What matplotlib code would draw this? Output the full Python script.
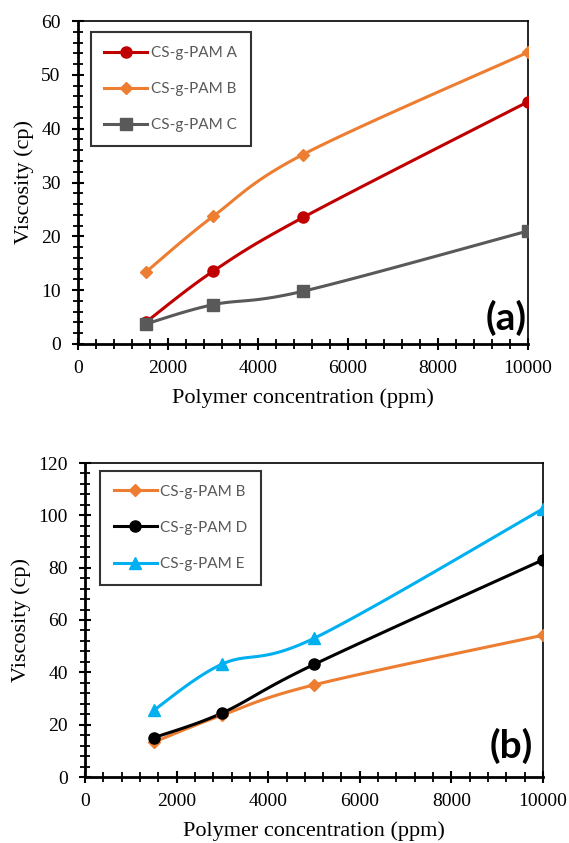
import numpy as np
import matplotlib
matplotlib.use("Agg")
import matplotlib.pyplot as plt
from matplotlib.ticker import MultipleLocator

# data
conc = [1500, 3000, 5000, 10000]
visc_a = [4.0, 13.5, 23.5, 45.0]
visc_b = [13.3, 23.7, 35.2, 54.2]
visc_c = [3.7, 7.3, 9.8, 21.0]
visc_d = [15.0, 24.5, 43.0, 83.0]
visc_e = [25.5, 43.2, 53.0, 102.5]

RED = "#C00000"
ORANGE = "#ED7D31"
GREY = "#595959"
BLACK = "#000000"
BLUE = "#00B0F0"

SERIF = "Liberation Serif"
SANS = "Lato"


def smooth(x, y, n=40):
	# excel-like smoothed line: cubic bezier through points, tension 1/6
	x = np.asarray(x, float)
	y = np.asarray(y, float)
	px = np.concatenate([[x[0]], x, [x[-1]]])
	py = np.concatenate([[y[0]], y, [y[-1]]])
	xs, ys = [], []
	t = np.linspace(0, 1, n)
	for i in range(1, len(px) - 2):
		p0 = np.array([px[i], py[i]])
		p3 = np.array([px[i + 1], py[i + 1]])
		c1 = p0 + (np.array([px[i + 1], py[i + 1]]) - np.array([px[i - 1], py[i - 1]])) / 6
		c2 = p3 - (np.array([px[i + 2], py[i + 2]]) - np.array([px[i], py[i]])) / 6
		b = ((1 - t) ** 3)[:, None] * p0 + (3 * (1 - t) ** 2 * t)[:, None] * c1 \
			+ (3 * (1 - t) * t ** 2)[:, None] * c2 + (t ** 3)[:, None] * p3
		xs.extend(b[:, 0])
		ys.extend(b[:, 1])
	return xs, ys


def draw_series(ax, y, color, marker, ms, label):
	sx, sy = smooth(conc, y)
	ax.plot(sx, sy, color=color, lw=2.2, zorder=2)
	ax.plot(conc, y, linestyle="none", marker=marker, ms=ms, color=color, zorder=3)
	# legend proxy
	ax.plot([], [], color=color, lw=2.2, marker=marker, ms=ms, label=label)


def style_axes(ax, ymax, ymajor, yminor):
	ax.set_xlim(0, 10000)
	ax.set_ylim(0, ymax)
	ax.xaxis.set_major_locator(MultipleLocator(2000))
	ax.xaxis.set_minor_locator(MultipleLocator(400))
	ax.yaxis.set_major_locator(MultipleLocator(ymajor))
	ax.yaxis.set_minor_locator(MultipleLocator(yminor))
	ax.tick_params(which="major", direction="inout", length=9, width=1.5, labelsize=14, pad=7)
	ax.tick_params(which="minor", direction="inout", length=7, width=1.3)
	ax.tick_params(axis="y", pad=8)
	for lab in ax.get_xticklabels() + ax.get_yticklabels():
		lab.set_fontfamily(SERIF)
	ax.spines["left"].set_linewidth(2)
	ax.spines["bottom"].set_linewidth(2)
	ax.spines["top"].set_linewidth(1.2)
	ax.spines["right"].set_linewidth(1.2)
	ax.set_xlabel("Polymer concentration (ppm)", fontsize=16, family=SERIF, labelpad=8)
	ax.set_ylabel("Viscosity (cp)", fontsize=16, family=SERIF, labelpad=5)


def add_legend(ax, bbox):
	leg = ax.legend(loc="upper left", bbox_to_anchor=bbox, frameon=True, fancybox=False,
					edgecolor="black", handlelength=2.8, handletextpad=0.25,
					labelspacing=1.45, borderpad=0.9, borderaxespad=0,
					prop={"family": SANS, "size": 11})
	leg.get_frame().set_linewidth(1.5)
	for t in leg.get_texts():
		t.set_color(GREY)


fig = plt.figure(figsize=(5.69, 8.43), dpi=100)

ax1 = fig.add_axes([78 / 569, 1 - 344 / 843, 450 / 569, 323 / 843])
draw_series(ax1, visc_a, RED, "o", 8, "CS-g-PAM A")
draw_series(ax1, visc_b, ORANGE, "D", 6, "CS-g-PAM B")
draw_series(ax1, visc_c, GREY, "s", 8, "CS-g-PAM C")
style_axes(ax1, 60, 10, 2)
add_legend(ax1, (0.028, 0.965))
ax1.text(0.998, 0.025, "(a)", transform=ax1.transAxes, ha="right", va="bottom",
		 fontsize=28, fontweight="bold", family=SANS)

ax2 = fig.add_axes([85 / 569, 1 - 777 / 843, 458 / 569, 314 / 843])
draw_series(ax2, visc_b, ORANGE, "D", 6, "CS-g-PAM B")
draw_series(ax2, visc_d, BLACK, "o", 8, "CS-g-PAM D")
draw_series(ax2, visc_e, BLUE, "^", 8.5, "CS-g-PAM E")
style_axes(ax2, 120, 20, 4)
add_legend(ax2, (0.033, 0.975))
ax2.text(0.978, 0.04, "(b)", transform=ax2.transAxes, ha="right", va="bottom",
		 fontsize=28, fontweight="bold", family=SANS)

fig.savefig("out.png", dpi=100)
